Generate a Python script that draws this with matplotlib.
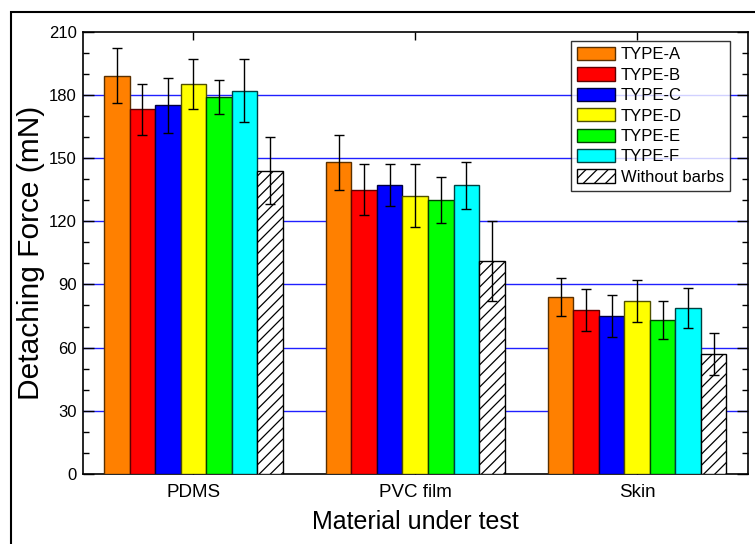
import numpy as np
import matplotlib
matplotlib.use("Agg")
import matplotlib.pyplot as plt
from matplotlib.ticker import MultipleLocator
from matplotlib.patches import Rectangle

plt.rcParams['font.family'] = ['Liberation Sans', 'DejaVu Sans']
plt.rcParams['hatch.linewidth'] = 0.9

categories = ["PDMS", "PVC film", "Skin"]
series_names = ["TYPE-A", "TYPE-B", "TYPE-C", "TYPE-D", "TYPE-E", "TYPE-F", "Without barbs"]
type_a = [189, 148, 84]
type_b = [173, 135, 78]
type_c = [175, 137, 75]
type_d = [185, 132, 82]
type_e = [179, 130, 73]
type_f = [182, 137, 79]
without = [144, 101, 57]
err_a = [13, 13, 9]
err_b = [12, 12, 10]
err_c = [13, 10, 10]
err_d = [12, 15, 10]
err_e = [8, 11, 9]
err_f = [15, 11, 9.5]
err_w = [16, 19, 10]

values = [type_a, type_b, type_c, type_d, type_e, type_f, without]
errors = [err_a, err_b, err_c, err_d, err_e, err_f, err_w]
colors = ["#FF8000", "#FF0000", "#0000FF", "#FFFF00", "#00FF00", "#00FFFF", "white"]
edges = ["#5a3000", "#600000", "#000040", "#505000", "#004000", "#004040", "black"]

fig = plt.figure(figsize=(7.55, 5.44), dpi=100)
ax = fig.add_axes([82.5/755, 1 - 474/544, (748 - 82.5)/755, (474 - 31.5)/544])

x = np.arange(len(categories))
w = 0.115
n = len(values)
for i in range(n):
    pos = x + (i - (n - 1) / 2) * w
    kw = {}
    if i == n - 1:
        kw['hatch'] = '///'
    ax.bar(pos, values[i], width=w, color=colors[i], edgecolor=edges[i],
           linewidth=1.0, label=series_names[i], zorder=3, **kw)
    ax.errorbar(pos, values[i], yerr=errors[i], fmt='none', ecolor='black', elinewidth=1.0,
                capsize=3.5, capthick=1.0, zorder=4)

ax.set_xlim(-0.5, 2.5)
ax.set_ylim(0, 210)
ax.yaxis.set_major_locator(MultipleLocator(30))
ax.yaxis.set_minor_locator(MultipleLocator(10))
ax.set_xticks(x)
ax.set_xticklabels(categories, fontsize=13.5)
ax.tick_params(axis='y', which='major', direction='in', length=8, width=1, labelsize=12,
               right=True, left=True, pad=4)
ax.tick_params(axis='y', which='minor', direction='in', length=4, width=1, right=True, left=True)
ax.tick_params(axis='x', which='major', direction='in', length=6, width=1, top=True, bottom=True, pad=7.5)
for sp in ax.spines.values():
    sp.set_linewidth(1.2)

for yv in [30, 60, 90, 120, 150, 180]:
    ax.axhline(yv, color='#2020ff', linewidth=1.0, zorder=1)

ax.set_ylabel("Detaching Force (mN)", fontsize=21.5, labelpad=3)
ax.set_xlabel("Material under test", fontsize=18, labelpad=6)

leg = ax.legend(loc='upper right', bbox_to_anchor=(0.973, 0.9785), fontsize=12, frameon=True,
                fancybox=False, edgecolor='black', handlelength=2.3, handleheight=0.85,
                labelspacing=0.3, borderpad=0.35, handletextpad=0.36, borderaxespad=0)
leg.get_frame().set_linewidth(1.0)

fig.patches.append(Rectangle((11/755, -0.1), 1.2, 1 - 12/544 + 0.1, transform=fig.transFigure,
                             fill=False, edgecolor='black', linewidth=1.5))

fig.savefig("out.png", dpi=100)
